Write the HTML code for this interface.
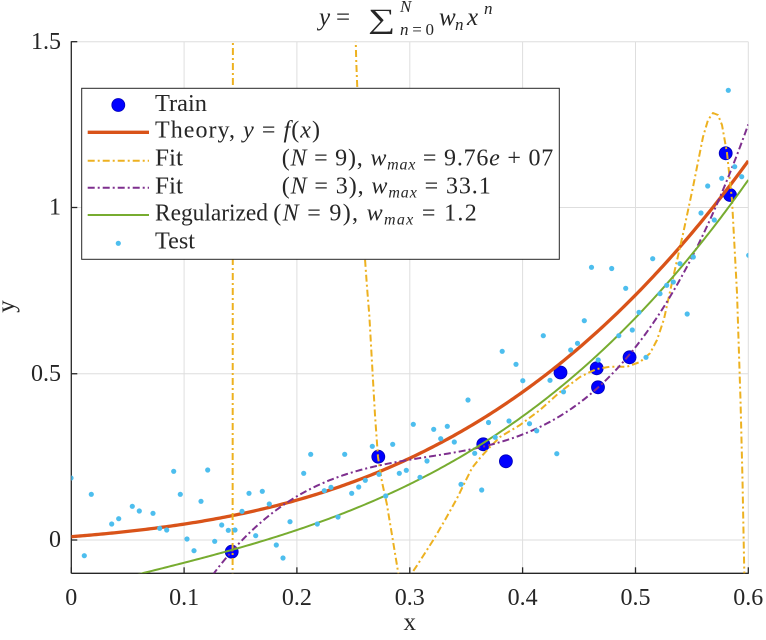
<!DOCTYPE html>
<html>
<head>
<meta charset="utf-8">
<style>
  html, body { margin: 0; padding: 0; background: #ffffff; font-family: "Liberation Serif", "Times New Roman", Times, "DejaVu Serif", "Noto Serif CJK SC", serif; }
  svg { display: block; }
  svg text { font-family: "Liberation Serif", "Times New Roman", Times, "DejaVu Serif", "Noto Serif CJK SC", serif; fill: #262626; }
</style>
</head>
<body>
<svg id="chart" width="766" height="640" viewBox="0 0 766 640" xmlns="http://www.w3.org/2000/svg" font-family="'Liberation Serif', 'Times New Roman', Times, 'DejaVu Serif', 'Noto Serif CJK SC', serif">
  <defs>
    <clipPath id="plotclip">
      <rect x="71.3" y="41.7" width="677" height="531.6"/>
    </clipPath>
  </defs>
  <rect x="0" y="0" width="766" height="640" fill="#ffffff"/>

  <!-- grid -->
  <g stroke="#dedede" stroke-width="1" fill="none">
    <line x1="184.1" y1="41.7" x2="184.1" y2="573.3"/>
    <line x1="296.9" y1="41.7" x2="296.9" y2="573.3"/>
    <line x1="409.8" y1="41.7" x2="409.8" y2="573.3"/>
    <line x1="522.6" y1="41.7" x2="522.6" y2="573.3"/>
    <line x1="635.5" y1="41.7" x2="635.5" y2="573.3"/>
    <line x1="748.3" y1="41.7" x2="748.3" y2="573.3"/>
    <line x1="71.3" y1="540" x2="748.3" y2="540"/>
    <line x1="71.3" y1="373.75" x2="748.3" y2="373.75"/>
    <line x1="71.3" y1="207.5" x2="748.3" y2="207.5"/>
    <line x1="71.3" y1="41.7" x2="748.3" y2="41.7"/>
  </g>

  <!-- axes -->
  <g stroke="#262626" stroke-width="1.3" fill="none">
    <line x1="71.3" y1="41.2" x2="71.3" y2="573.3"/>
    <line x1="71.3" y1="573.3" x2="748.8" y2="573.3"/>
    <line x1="71.3" y1="573.3" x2="71.3" y2="567.3"/>
    <line x1="184.1" y1="573.3" x2="184.1" y2="567.3"/>
    <line x1="296.9" y1="573.3" x2="296.9" y2="567.3"/>
    <line x1="409.8" y1="573.3" x2="409.8" y2="567.3"/>
    <line x1="522.6" y1="573.3" x2="522.6" y2="567.3"/>
    <line x1="635.5" y1="573.3" x2="635.5" y2="567.3"/>
    <line x1="748.3" y1="573.3" x2="748.3" y2="567.3"/>
    <line x1="71.3" y1="540" x2="77.3" y2="540"/>
    <line x1="71.3" y1="373.75" x2="77.3" y2="373.75"/>
    <line x1="71.3" y1="207.5" x2="77.3" y2="207.5"/>
    <line x1="71.3" y1="41.7" x2="77.3" y2="41.7"/>
  </g>

  <!-- tick labels -->
  <g font-size="24" fill="#262626">
    <text x="61" y="547" text-anchor="end">0</text>
    <text x="61" y="381" text-anchor="end">0.5</text>
    <text x="61" y="214.5" text-anchor="end">1</text>
    <text x="61" y="49" text-anchor="end">1.5</text>

    <text x="71.3" y="605" text-anchor="middle">0</text>
    <text x="184.1" y="605" text-anchor="middle">0.1</text>
    <text x="296.9" y="605" text-anchor="middle">0.2</text>
    <text x="409.8" y="605" text-anchor="middle">0.3</text>
    <text x="522.6" y="605" text-anchor="middle">0.4</text>
    <text x="635.5" y="605" text-anchor="middle">0.5</text>
    <text x="748.3" y="605" text-anchor="middle">0.6</text>
  </g>

  <!-- axis labels -->
  <g font-size="25" fill="#262626">
    <text x="409.7" y="630" text-anchor="middle">x</text>
    <text transform="translate(14,306.5) rotate(-90)" text-anchor="middle">y</text>
  </g>

  <!-- title -->
  <g fill="#000">
    <text x="319" y="25" font-style="italic" font-size="25" fill="#000">y</text>
    <text x="336" y="25" font-size="25" fill="#000">=</text>
    <text x="368" y="28" font-size="28" fill="#000" textLength="27" lengthAdjust="spacingAndGlyphs">∑</text>
    <text x="400" y="12" font-style="italic" font-size="17" fill="#000">N</text>
    <text x="400" y="35" font-size="17" fill="#000" textLength="34" lengthAdjust="spacing"><tspan font-style="italic">n</tspan>=0</text>
    <text x="439" y="25" font-style="italic" font-size="25" fill="#000">w</text>
    <text x="455" y="30" font-style="italic" font-size="17" fill="#000">n</text>
    <text x="467" y="25" font-style="italic" font-size="25" fill="#000">x</text>
    <text x="484" y="14" font-style="italic" font-size="17" fill="#000">n</text>
  </g>

  <!-- plot content -->
  <g clip-path="url(#plotclip)">
    <g fill="#0000ff" stroke="#0000b8" stroke-width="0.8">
      <circle cx="231.7" cy="551.7" r="6.5"/>
      <circle cx="378.3" cy="456.7" r="6.5"/>
      <circle cx="483.3" cy="444.3" r="6.5"/>
      <circle cx="505.9" cy="461.3" r="6.5"/>
      <circle cx="560.5" cy="372.5" r="6.5"/>
      <circle cx="596.7" cy="368.3" r="6.5"/>
      <circle cx="598" cy="387.3" r="6.5"/>
      <circle cx="629.6" cy="357.3" r="6.5"/>
      <circle cx="725.7" cy="153.3" r="6.5"/>
      <circle cx="730" cy="195" r="6.5"/>
    </g>

    <path id="theory" d="" fill="none" stroke="#D95319" stroke-width="3.3" stroke-linejoin="round"/>

    <path id="fit9" fill="none" stroke="#EDB120" stroke-width="2" stroke-dasharray="7,3,2,3" stroke-linejoin="round"
      d="M232.6,580 L232.9,35
         M355.6,35 L356.2,60 L357.3,88 L359,130 L361,175 L363,217 L365,259 L367,287 L369.3,315 L371,345 L372.7,375 L375,415 L378,457 L382,482 L386.7,503.3 L392,535 L398.3,573.3 L400,585
         M408.5,585 L411.7,573.3 L418,564 L425,553 L433.3,540 L445,520 L456.7,499 L465,482 L472,468 L480,458 L490,447 L500,437 L520,425 L540,410 L560,392 L580,377 L590,372 L597,369 L610,366.7 L627,366.7 L640,362 L650,353.3 L657,340 L664,319 L673,278 L683,234 L693,187 L703,137 L708,120 L713,113 L718,115 L722,125 L727,153 L732,200 L737,293 L740.5,400 L742.5,480 L744.3,573.3 L745,590"/>

    <path id="fit3" d="" fill="none" stroke="#7E2F8E" stroke-width="2" stroke-dasharray="7,3,2,3" stroke-linejoin="round"/>
    <path id="reg" d="" fill="none" stroke="#77AC30" stroke-width="2" stroke-linejoin="round"/>

    <g id="test" fill="#4DBEEE"></g>
  </g>

  <!-- legend -->
  <rect x="81.7" y="88.3" width="477.6" height="171" fill="#ffffff" stroke="#262626" stroke-width="1"/>
  <circle cx="118.3" cy="105" r="6.5" fill="#0000ff" stroke="#0000b8" stroke-width="0.8"/>
  <line x1="87.7" y1="132.3" x2="149" y2="132.3" stroke="#D95319" stroke-width="3.3"/>
  <line x1="87.7" y1="160.7" x2="149" y2="160.7" stroke="#EDB120" stroke-width="2" stroke-dasharray="7,3,2,3"/>
  <line x1="87.7" y1="187.7" x2="149" y2="187.7" stroke="#7E2F8E" stroke-width="2" stroke-dasharray="7,3,2,3"/>
  <line x1="87.7" y1="215" x2="149" y2="215" stroke="#77AC30" stroke-width="2"/>
  <circle cx="118.3" cy="243.3" r="2.6" fill="#4DBEEE"/>

  <g font-size="24" fill="#000">
    <text x="155" y="111" fill="#000" textLength="52" lengthAdjust="spacingAndGlyphs">Train</text>
    <text x="155" y="137.5" fill="#000" textLength="165" lengthAdjust="spacing">Theory, <tspan font-style="italic">y</tspan> = <tspan font-style="italic">f</tspan>(<tspan font-style="italic">x</tspan>)</text>
    <text x="155" y="165.5" fill="#000" textLength="28" lengthAdjust="spacingAndGlyphs">Fit</text>
    <text x="281.7" y="165.5" fill="#000" textLength="271.6" lengthAdjust="spacing">(<tspan font-style="italic">N</tspan> = 9), <tspan font-style="italic">w</tspan><tspan font-style="italic" font-size="16" dy="4">max</tspan><tspan dy="-4"> = 9.76</tspan><tspan font-style="italic">e</tspan> + 07</text>
    <text x="155" y="193.3" fill="#000" textLength="28" lengthAdjust="spacingAndGlyphs">Fit</text>
    <text x="281.7" y="193.3" fill="#000" textLength="209" lengthAdjust="spacing">(<tspan font-style="italic">N</tspan> = 3), <tspan font-style="italic">w</tspan><tspan font-style="italic" font-size="16" dy="4">max</tspan><tspan dy="-4"> = 33.1</tspan></text>
    <text x="155" y="220.7" fill="#000" textLength="113" lengthAdjust="spacingAndGlyphs">Regularized</text>
    <text x="273.3" y="220.7" fill="#000" textLength="203.4" lengthAdjust="spacing">(<tspan font-style="italic">N</tspan> = 9), <tspan font-style="italic">w</tspan><tspan font-style="italic" font-size="16" dy="4">max</tspan><tspan dy="-4"> = 1.2</tspan></text>
    <text x="155" y="248.3" fill="#000" textLength="40" lengthAdjust="spacingAndGlyphs">Test</text>
  </g>
</svg>

<script>
(function(){
  var X = function(x){ return 71.3 + x*1128.33; };
  var Y = function(v){ return 540 - 332.5*v; };
  function path(f, x0, x1, n){
    var d = '';
    for (var i=0;i<=n;i++){
      var x = x0 + (x1-x0)*i/n;
      var v = f(x);
      if (v > 2) v = 2; if (v < -0.5) v = -0.5;
      d += (i? 'L':'M') + X(x).toFixed(2) + ',' + Y(v).toFixed(2) + ' ';
    }
    return d;
  }
  var theory = function(x){ return 0.01 + 0.271*x + 0.75*x*x + 3.23*x*x*x; };
  var reg = function(x){
    var a=x-0.063, b=x-0.217, c=x-0.362;
    return -0.1 + 0.974*a + 2.164*a*b + 4.391*a*b*c;
  };
  var fit3 = function(x){
    var a=x-0.142, b=x-0.274, c=x-0.457;
    return -0.035 + 1.970*a - 2.698*a*b + 36.79*a*b*c;
  };
  document.getElementById('theory').setAttribute('d', path(theory, 0, 0.6, 300));
  document.getElementById('reg').setAttribute('d', path(reg, 0.04, 0.6, 300));
  document.getElementById('fit3').setAttribute('d', path(fit3, 0.11, 0.6, 300));

  var pts = [
    [71,478],[91.3,494.3],[84.3,555.7],[111.7,524],[118.7,518.7],[132.3,506.3],[139.3,511],[153,513.3],
    [159.7,528.3],[166.7,530],[173.7,471.3],[180.3,494.3],[187,539],[194,550.7],[201,501.3],[207.7,470],
    [214.7,541.3],[221.7,525],[228.3,530.3],[235,530],[242,511.3],[249,493.3],[255.7,535.7],[262.3,491.3],
    [269.3,504],[276.3,545],[283,558],[290,521.7],[303.7,473.3],[310.7,454.3],[317.3,524],
    [324.3,490.7],[331,487.3],[338,517],[344.7,454.3],[351.7,493.3],[358.7,487],[365.3,480.3],[372.3,446.3],
    [379,474.3],[385.7,496],[392.7,444.3],[399.3,473.3],[406.3,470.3],[413.3,424.3],[420,477.3],[427,461],
    [433.7,429.3],[440.7,438.7],[447.3,426.3],[454.3,442],[461,484.3],[468,400],[474.7,453.3],
    [481.7,490],[488.5,422.5],[495.2,437.3],[502.2,351.3],[509,421],[516,364.3],[522.8,380.7],[529.5,423.7],
    [536.7,430.8],[543.3,335.7],[550,380.3],[556.8,453.7],[563.5,391.8],[570.7,350],[577.5,343.3],[584.3,320.7],
    [591.5,267.3],[598.2,360],[611.7,268.5],[618.8,335.7],[625.7,288.3],[632.3,330],[639,312.3],[646,357.3],
    [652.7,258.7],[660,293.7],[666.7,285.3],[673.3,282],[680,263.7],[687.2,314],[693.3,257],[701,213],
    [707.7,186],[714.3,220],[721.7,178.3],[728.3,90.3],[734.7,166.7],[741.7,176.7],[748.7,255.3]
  ];
  var g = document.getElementById('test');
  var ns = 'http://www.w3.org/2000/svg';
  for (var i=0;i<pts.length;i++){
    var c = document.createElementNS(ns, 'circle');
    c.setAttribute('cx', pts[i][0]);
    c.setAttribute('cy', pts[i][1]);
    c.setAttribute('r', 2.6);
    g.appendChild(c);
  }
})();
</script>
</body>
</html>
